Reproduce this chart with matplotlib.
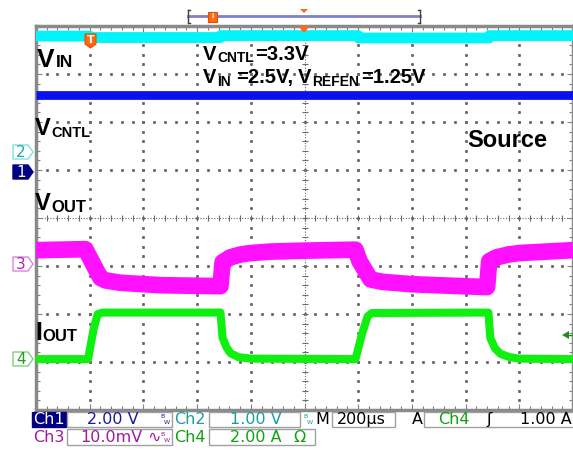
import numpy as np
import matplotlib.pyplot as plt
from matplotlib.patches import Polygon, Rectangle

W, H = 573, 463

# time base: 200 us/div, 10 div; levels in divisions (8 div)
ch1_t = [-1000, 1000]
ch1_div = [2.56, 2.56]

ch2_t = [-1000, -800, -799, -313, -312, 200, 201, 688, 689, 1000]
ch2_div = [3.79, 3.79, 3.76, 3.76, 3.80, 3.80, 3.75, 3.75, 3.80, 3.80]

ch3_t = [-1000, -816, -760, -741, -685, -536, -313, -305, -276, -238, -201, -127, 0,
         190, 205, 246, 290, 400, 680, 688, 715, 760, 800, 900, 1000]
ch3_div = [-0.67, -0.65, -1.25, -1.30, -1.35, -1.40, -1.42, -0.92, -0.82, -0.76, -0.73, -0.70, -0.68,
           -0.66, -0.90, -1.28, -1.33, -1.38, -1.44, -0.90, -0.82, -0.76, -0.73, -0.70, -0.67]

ch4_t = [-1000, -806, -785, -770, -750, -313, -305, -290, -275, -245, -200,
         190, 215, 235, 250, 685, 692, 710, 730, 765, 800, 1000]
ch4_div = [-2.94, -2.94, -2.30, -2.00, -1.97, -1.97, -2.50, -2.70, -2.82, -2.90, -2.93,
           -2.94, -2.40, -2.05, -1.98, -1.97, -2.50, -2.72, -2.83, -2.90, -2.93, -2.94]

plt.rcParams['font.family'] = ['Liberation Sans', 'DejaVu Sans']

fig = plt.figure(figsize=(W / 100, H / 100), dpi=100)
ax = fig.add_axes([36 / W, 1 - 410 / H, 537 / W, 384 / H])
ax.set_xlim(-1000, 1000)
ax.set_ylim(-4, 4)


def px(x, y):
    return (x / W, 1 - y / H)


# graticule
gcol = '#6a6a6a'
for gx in range(-800, 801, 200):
    if gx == 0:
        continue
    ys = np.arange(-4, 4.01, 0.2)
    ax.plot([gx] * len(ys), ys, ls='none', marker='s', ms=1.1, color=gcol, zorder=1)
for gy in range(-3, 4):
    if gy == 0:
        continue
    xs = np.arange(-1000, 1001, 40)
    ax.plot(xs, [gy] * len(xs), ls='none', marker='s', ms=1.1, color=gcol, zorder=1)
ax.axhline(0, ls=(0, (1, 1.5)), lw=0.8, color=gcol, zorder=1)
ax.axvline(0, ls=(0, (1, 1.5)), lw=0.8, color=gcol, zorder=1)
xs = np.arange(-1000, 1001, 40)
ax.plot(xs, [0] * len(xs), ls='none', marker='|', ms=5, mew=0.8, color=gcol, zorder=1)
ys = np.arange(-4, 4.01, 0.2)
ax.plot([0] * len(ys), ys, ls='none', marker='_', ms=5, mew=0.8, color=gcol, zorder=1)

ax.set_xticks(np.arange(-1000, 1001, 200))
ax.set_xticks(np.arange(-1000, 1001, 40), minor=True)
ax.set_yticks(np.arange(-4, 4.01, 1))
ax.set_yticks(np.arange(-4, 4.01, 0.2), minor=True)
ax.tick_params(which='both', direction='in', top=True, right=True, labelbottom=False,
               labelleft=False, color='#808080', width=0.8)
ax.tick_params(which='major', length=4)
ax.tick_params(which='minor', length=3)
for s in ax.spines.values():
    s.set_color('#8a8a8a')
    s.set_linewidth(2.5)

# traces
kw = dict(solid_capstyle='butt', solid_joinstyle='round', zorder=3)
ax.plot(ch2_t, ch2_div, color='#00f4f8', lw=7.8, **kw)
ax.plot(ch1_t, ch1_div, color='#0a10f0', lw=6.3, **kw)
ax.plot(ch3_t, ch3_div, color='#ff10ff', lw=12, **kw)
ax.plot(ch4_t, ch4_div, color='#10f010', lw=5.8, **kw)

renderer = fig.canvas.get_renderer()


def label(parts, x, y):
    # parts: (text, size, baseline drop, gap after in px)
    for s, size, dy, gap in parts:
        t = fig.text(*px(x, y + dy), s, fontsize=size, fontweight='bold', family='Liberation Sans',
                     va='baseline', ha='left', color='black', zorder=10)
        x += t.get_window_extent(renderer).width + gap


label([('V', 19, 0, 1), ('IN', 12.5, 0, 0)], 37, 67)
label([('V', 14.5, 0, 1), ('CNTL', 10, 2, 1.5), ('=3.3V', 14.5, 0, 0)], 203, 60)
label([('V', 14.5, 0, 1), ('IN', 10, 3, 5), ('=2.5V,', 14.5, 0, 5), ('V', 14.5, 0, 1),
       ('REFEN', 10, 3, 1.5), ('=1.25V', 14.5, 0, 0)], 203, 83)
label([('V', 17, 0, 1), ('CNTL', 10.5, 2, 0)], 35, 135)
label([('V', 17, 0, 1), ('OUT', 12, 2, 0)], 35, 210)
label([('I', 18, 0, 1), ('OUT', 12, 1, 0)], 35, 340)
label([('Source', 17, 0, 0)], 467, 147)


# channel offset markers
def chan_marker(y, num, edge, face, tcol):
    pts = [px(13, y - 7), px(28, y - 7), px(33, y), px(28, y + 7), px(13, y + 7)]
    fig.add_artist(Polygon(pts, closed=True, transform=fig.transFigure, facecolor=face,
                           edgecolor=edge, lw=1, zorder=5))
    fig.text(*px(21, y + 0.5), num, ha='center', va='center', color=tcol, fontsize=11,
             family='DejaVu Sans', zorder=6)


chan_marker(152, '2', '#80e0e0', 'white', '#20a8a8')
chan_marker(172, '1', '#000080', '#000080', 'white')
chan_marker(264, '3', '#e080e0', 'white', '#b020b0')
chan_marker(359, '4', '#80d080', 'white', '#20a020')

# trigger marker on trace
orange = '#ff6a10'
fig.add_artist(Polygon([px(85, 34), px(96, 34), px(96, 44), px(90.5, 48), px(85, 44)],
                       closed=True, transform=fig.transFigure, facecolor=orange,
                       edgecolor='#e05000', lw=0.8, zorder=6))
fig.text(*px(90.5, 40), 'T', ha='center', va='center', color='#c8ffff', fontsize=8,
         fontweight='bold', family='DejaVu Sans', zorder=7)

# trigger position / record bar at top
fig.add_artist(plt.Line2D([188 / W, 420 / W], [1 - 16 / H] * 2, color='#8080c8', lw=2,
                          transform=fig.transFigure))
for bx, d in [(188, 1), (420, -1)]:
    fig.add_artist(plt.Line2D([bx / W, bx / W], [1 - 10 / H, 1 - 23 / H], color='#404040', lw=1,
                              transform=fig.transFigure))
    fig.add_artist(plt.Line2D([bx / W, (bx + 2 * d) / W], [1 - 10 / H] * 2, color='#404040', lw=1,
                              transform=fig.transFigure))
    fig.add_artist(plt.Line2D([bx / W, (bx + 2 * d) / W], [1 - 23 / H] * 2, color='#404040', lw=1,
                              transform=fig.transFigure))
fig.add_artist(Rectangle(px(208, 22), 9 / W, 10 / H, transform=fig.transFigure,
                         facecolor=orange, edgecolor='#e05000', lw=0.8, zorder=6))
fig.text(*px(212.5, 17), 'I', ha='center', va='center', color='white', fontsize=6,
         fontweight='bold', zorder=7)
fig.add_artist(Polygon([px(300, 9), px(308, 9), px(304, 13)], closed=True,
                       transform=fig.transFigure, facecolor=orange, edgecolor='none'))
fig.add_artist(Polygon([px(298, 26), px(310, 26), px(304, 33)], closed=True,
                       transform=fig.transFigure, facecolor=orange, edgecolor='none', zorder=8))

# trigger level arrow on right
fig.add_artist(Polygon([px(562, 335), px(569, 331), px(569, 339)], closed=True,
                       transform=fig.transFigure, facecolor='#208a20', edgecolor='none', zorder=8))
fig.add_artist(plt.Line2D([569 / W, 573 / W], [1 - 335 / H] * 2, color='#208a20', lw=1,
                          transform=fig.transFigure, zorder=8))

# status bar
blue_t = '#1a1aa0'
teal_t = '#1a9ea0'
mag_t = '#a01aa0'
grn_t = '#10a010'


def box(x0, x1, y0, y1, face='white', edge='#a0a0a0'):
    fig.add_artist(Rectangle(px(x0, y1), (x1 - x0) / W, (y1 - y0) / H, transform=fig.transFigure,
                             facecolor=face, edgecolor=edge, lw=1))


def stxt(x, y, s, col, size=11.5):
    fig.text(*px(x, y), s, ha='left', va='center', color=col, fontsize=size, family='DejaVu Sans')


def bw(x, y, col):
    fig.text(*px(x, y - 2.5), 'B', ha='left', va='center', color=col, fontsize=4.5,
             family='DejaVu Sans')
    fig.text(*px(x + 4, y + 2.5), 'W', ha='left', va='center', color=col, fontsize=4.5,
             family='DejaVu Sans')


r1, r2 = 419.5, 437.5
box(32, 66, 412, 427, face='#000080', edge='#000080')
stxt(33, r1, 'Ch1', 'white')
box(67, 172, 412, 427)
stxt(87, r1, '2.00 V', blue_t)
bw(160, r1, blue_t)
stxt(174, r1, 'Ch2', teal_t)
box(209, 300, 412, 427)
stxt(230, r1, '1.00 V', teal_t)
bw(303, r1, teal_t)
stxt(315, r1, 'M', 'black')
box(332, 395, 412, 427)
stxt(337, r1, '200µs', 'black')
stxt(412, r1, 'A', 'black')
box(424, 580, 412, 427)
stxt(438, r1, 'Ch4', grn_t)
stxt(486, r1, 'ʃ', 'black')
stxt(520, r1, '1.00 A', 'black')

stxt(33, r2, 'Ch3', mag_t)
box(67, 172, 429, 445)
stxt(80, r2, '10.0mV', mag_t)
stxt(147, r2, '∿', mag_t)
bw(160, r2, mag_t)
stxt(174, r2, 'Ch4', grn_t)
box(209, 315, 429, 445)
stxt(230, r2, '2.00 A', grn_t)
stxt(293, r2, 'Ω', grn_t)

fig.savefig('out.png', dpi=100)
